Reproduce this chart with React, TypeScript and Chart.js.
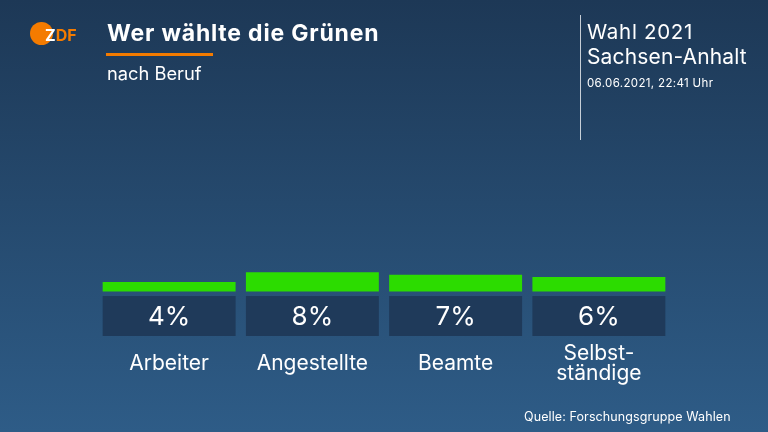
import React, { useEffect, useRef } from 'react';
import { Chart, registerables } from 'chart.js';

Chart.register(...registerables);

// ---- data ----
const categories: (string | string[])[] = ['Arbeiter', 'Angestellte', 'Beamte', ['Selbst-', 'ständige']];
const shares: number[] = [4, 8, 7, 6];
const shareLabels: string[] = ['4%', '8%', '7%', '6%'];
const yMin = -20;
const yMax = 30;

const title = 'Wer wählte die Grünen';
const subtitle = 'nach Beruf';
const electionLine1 = 'Wahl 2021';
const electionLine2 = 'Sachsen-Anhalt';
const stamp = '06.06.2021, 22:41 Uhr';
const source = 'Quelle: Forschungsgruppe Wahlen';

const FONT = 'Inter, "Open Sans", sans-serif';

export default function App() {
  const ref = useRef<HTMLCanvasElement>(null);

  useEffect(() => {
    document.body.style.margin = '0';
    const canvas = ref.current;
    if (!canvas) return;

    const bgPlugin = {
      id: 'bg',
      beforeDraw(chart: any) {
        const { ctx, width, height } = chart;
        const g = ctx.createLinearGradient(0, 0, 0, height);
        g.addColorStop(0, '#1d3856');
        g.addColorStop(1, '#2e5c87');
        ctx.save();
        ctx.fillStyle = g;
        ctx.fillRect(0, 0, width, height);
        ctx.restore();
      },
    };

    const boxPlugin = {
      id: 'boxes',
      afterDatasetsDraw(chart: any) {
        const meta = chart.getDatasetMeta(0);
        const ctx = chart.ctx;
        ctx.save();
        meta.data.forEach((bar: any, i: number) => {
          const { x, width, base } = bar.getProps(['x', 'width', 'base'], true);
          const left = x - width / 2;
          const top = base + 4.5;
          ctx.fillStyle = '#1f3a5a';
          ctx.fillRect(left, top, width, 40);
          ctx.fillStyle = '#ffffff';
          ctx.font = `26px ${FONT}`;
          ctx.textAlign = 'center';
          ctx.textBaseline = 'middle';
          ctx.fillText(shareLabels[i], x, top + 21);
        });
        ctx.restore();
      },
    };

    const chart = new Chart(canvas, {
      type: 'bar',
      data: {
        labels: categories as any,
        datasets: [
          {
            data: shares,
            backgroundColor: '#2cdc00',
            borderWidth: 0,
            barPercentage: 0.928,
            categoryPercentage: 1,
          },
        ],
      },
      options: {
        responsive: false,
        animation: false,
        devicePixelRatio: 1,
        layout: { padding: { top: 219.5, left: 97.5, right: 97.5, bottom: 24.8 } },
        plugins: { legend: { display: false }, tooltip: { enabled: false }, title: { display: false } },
        scales: {
          y: { display: false, min: yMin, max: yMax },
          x: {
            grid: { display: false, drawTicks: false },
            border: { display: false },
            ticks: {
              color: '#ffffff',
              padding: 13.9,
              crossAlign: 'center',
              maxRotation: 0,
              autoSkip: false,
              font: { family: FONT, size: 21, lineHeight: 0.95 },
            },
          },
        },
      },
      plugins: [bgPlugin, boxPlugin],
    });

    return () => chart.destroy();
  }, []);

  const abs = (s: React.CSSProperties): React.CSSProperties => ({
    position: 'absolute',
    whiteSpace: 'nowrap',
    fontFamily: FONT,
    color: '#ffffff',
    lineHeight: 1,
    ...s,
  });

  return (
    <div style={{ position: 'relative', width: 768, height: 432, overflow: 'hidden' }}>
      <canvas ref={ref} width={768} height={432} style={{ display: 'block' }} />
      {/* ZDF logo */}
      <div style={{ position: 'absolute', left: 30, top: 22, width: 23, height: 23, borderRadius: '50%', background: '#f47b00' }} />
      <div style={abs({ left: 45, top: 26.5, fontSize: 16, fontWeight: 700, letterSpacing: 0 })}>
        <span style={{ color: '#ffffff' }}>Z</span>
        <span style={{ color: '#f47b00' }}>DF</span>
      </div>
      {/* title */}
      <div style={abs({ left: 107, top: 21.8, fontSize: 23, fontWeight: 700, letterSpacing: 0.8 })}>{title}</div>
      <div style={{ position: 'absolute', left: 106, top: 53, width: 107, height: 2.5, background: '#f47b00' }} />
      <div style={abs({ left: 107, top: 64.2, fontSize: 18.3 })}>{subtitle}</div>
      {/* right header */}
      <div style={{ position: 'absolute', left: 580, top: 15, width: 1, height: 125, background: 'rgba(255,255,255,0.75)' }} />
      <div style={abs({ left: 587, top: 22.3, fontSize: 20.5, letterSpacing: 0.7 })}>{electionLine1}</div>
      <div style={abs({ left: 587, top: 45.8, fontSize: 21, letterSpacing: 0.15 })}>{electionLine2}</div>
      <div style={abs({ left: 587, top: 78.4, fontSize: 11.5, letterSpacing: 0.35 })}>{stamp}</div>
      {/* source */}
      <div style={abs({ left: 524, top: 410.9, fontSize: 12.5, letterSpacing: 0.1 })}>{source}</div>
    </div>
  );
}
